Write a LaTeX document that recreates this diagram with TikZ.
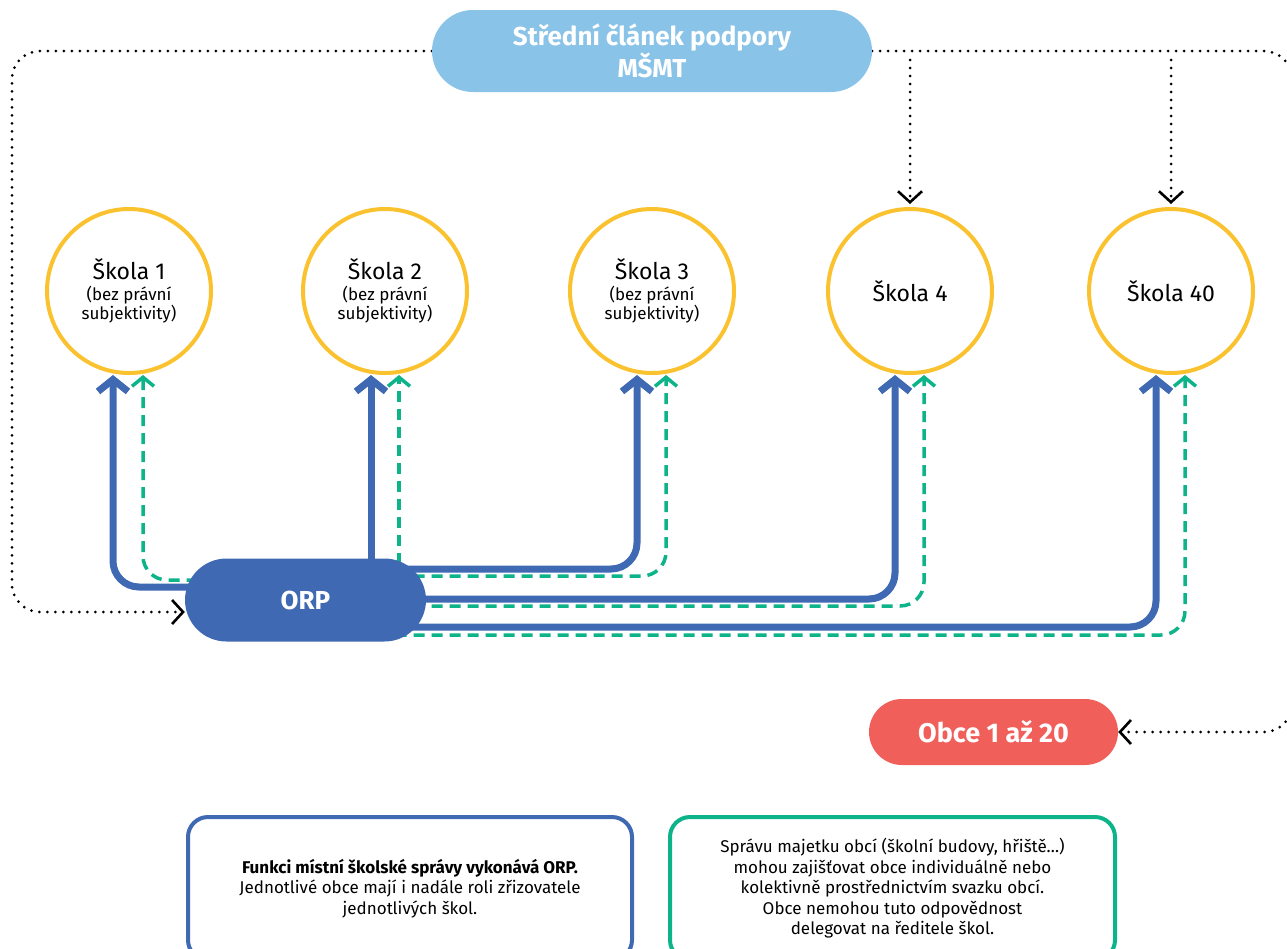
\documentclass[tikz,border=0pt]{standalone}
\usepackage{fontspec}
\setmainfont{Fira Sans}
\usetikzlibrary{arrows.meta,shapes.misc,backgrounds,calc}
\definecolor{cblue}{HTML}{3F69B2}
\definecolor{cgreen}{HTML}{0DB48A}
\definecolor{cyellow}{HTML}{FBC230}
\definecolor{clight}{HTML}{8AC3E8}
\definecolor{cred}{HTML}{F05F5A}
\newcommand\subtxt[1]{{\fontsize{17}{19}\selectfont #1}}
\begin{document}
\begin{tikzpicture}[x=1pt,y=-1pt,
  school/.style={circle, draw=cyellow, line width=4pt, minimum size=164pt, inner sep=0pt, align=center, font=\fontsize{23}{21}\selectfont},
  pill/.style={rounded rectangle, inner sep=0pt, text=white, align=center},
  infobox/.style={rounded corners=20pt, line width=4pt, inner sep=0pt, align=center, font=\fontsize{17}{20.5}\selectfont},
  dots/.style={line width=3pt, dash pattern=on 0pt off 8pt, line cap=round, black, rounded corners=28pt, -{Straight Barb[length=11pt,width=24pt,line width=2.6pt]}},
  bl/.style={draw=cblue, line width=7pt, rounded corners=26pt, -{Straight Barb[length=12pt,width=30pt,line width=7pt]}},
  gr/.style={draw=cgreen, line width=3.5pt, dash pattern=on 11pt off 7pt, rounded corners=24pt, -{Straight Barb[length=9pt,width=22pt,line width=3.5pt]}}
]
\useasboundingbox (0,0) rectangle (1287,948);

% top node
\node[pill, fill=clight, minimum width=440pt, minimum height=82pt, font=\bfseries\fontsize{26}{32}\selectfont] (top) at (652,51) {Střední článek podpory\\MŠMT};

% schools
\node[school] (S1) at (129,291) {Škola 1\\\subtxt{(bez právní}\\[-2pt]\subtxt{subjektivity)}};
\node[school] (S2) at (385,291) {Škola 2\\\subtxt{(bez právní}\\[-2pt]\subtxt{subjektivity)}};
\node[school] (S3) at (652,291) {Škola 3\\\subtxt{(bez právní}\\[-2pt]\subtxt{subjektivity)}};
\node[school] (S4) at (910,291) {Škola 4};
\node[school] (S40) at (1171,291) {Škola 40};

% ORP and Obce
\node[pill, fill=cblue, minimum width=241pt, minimum height=83pt, font=\bfseries\fontsize{26}{28}\selectfont] (ORP) at (305.5,600) {ORP};
\node[pill, fill=cred, minimum width=249pt, minimum height=66pt, font=\bfseries\fontsize{27}{28}\selectfont] (Obce) at (993.5,732) {Obce 1 až 20};

% info boxes
\node[infobox, draw=cblue, minimum width=444pt, minimum height=143pt] (box1) at (410,888.5)
  {\textbf{Funkci místní školské správy vykonává ORP.}\\Jednotlivé obce mají i nadále roli zřizovatele\\jednotlivých škol.};
\node[infobox, draw=cgreen, minimum width=445pt, minimum height=143pt] (box2) at (892.5,888.5)
  {Správu majetku obcí (školní budovy, hřiště…)\\mohou zajišťovat obce individuálně nebo\\kolektivně prostřednictvím svazku obcí.\\Obce nemohou tuto odpovědnost\\delegovat na ředitele škol.};

\coordinate (lc) at (12,612);
\coordinate (rc) at (1292,732);
\coordinate (b4) at (S4.north |- 0,60);
\coordinate (b40) at (S40.north |- 0,60);

\begin{scope}[on background layer]
  % dotted
  \draw[dots] (top.west) -| (lc) -- ([yshift=-12pt]ORP.west);
  \draw[dots] (top.east) -| (rc) -- (Obce.east);
  \draw[dots, shorten >=3pt] (b4) -- (S4.north);
  \draw[dots, shorten >=3pt] (b40) -- (S40.north);
  % blue solid
  \draw[bl] ([yshift=13pt]ORP.center) -| ([xshift=-16pt]S1.south);
  \draw[bl] ([xshift=-14pt]S2.south |- ORP.center) -- ([xshift=-14pt]S2.south);
  \draw[bl] ([yshift=31pt]ORP.center) -| ([xshift=-15pt]S3.south);
  \draw[bl] ([yshift=1pt]ORP.center) -| ([xshift=-15pt]S4.south);
  \draw[bl] ([yshift=-27pt]ORP.center) -| ([xshift=-15pt]S40.south);
  % green dashed
  \draw[gr] ([yshift=20pt]ORP.center) -| ([xshift=14pt]S1.south);
  \draw[gr] ([xshift=14pt]S2.south |- ORP.center) -- ([xshift=14pt]S2.south);
  \draw[gr] ([yshift=24pt]ORP.center) -| ([xshift=14pt]S3.south);
  \draw[gr] ([yshift=-6pt]ORP.center) -| ([xshift=14pt]S4.south);
  \draw[gr] ([yshift=-35pt]ORP.center) -| ([xshift=14pt]S40.south);
\end{scope}
\end{tikzpicture}
\end{document}
